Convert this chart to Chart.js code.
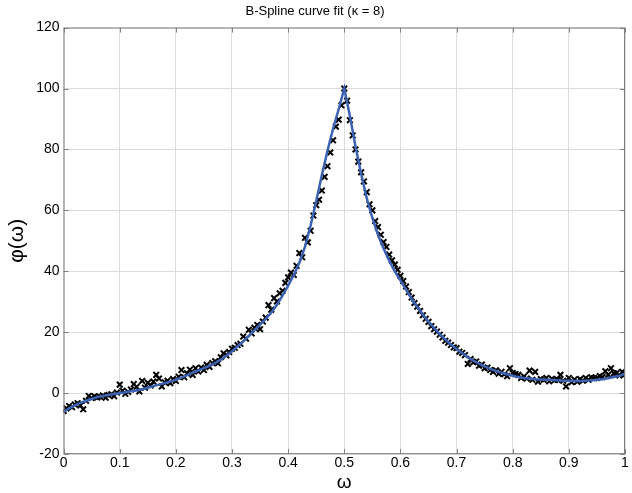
<!DOCTYPE html>
<html>
<head>
<meta charset="utf-8">
<script src="https://cdn.jsdelivr.net/npm/chart.js@4/dist/chart.umd.min.js"></script>
<style>
  html, body { margin: 0; padding: 0; background: #fff; }
  #wrap { width: 632px; height: 493px; }
</style>
</head>
<body>
<div id="wrap"><canvas id="fitChart" width="632" height="493"></canvas></div>
<script>
// measured samples (x markers)
const sampleX = [
    0.000, 0.005, 0.010, 0.015, 0.020, 0.025, 0.030, 0.035, 0.040, 0.045,
    0.050, 0.055, 0.060, 0.065, 0.070, 0.075, 0.080, 0.085, 0.090, 0.095,
    0.100, 0.105, 0.110, 0.115, 0.120, 0.125, 0.130, 0.135, 0.140, 0.145,
    0.150, 0.155, 0.160, 0.165, 0.170, 0.175, 0.180, 0.185, 0.190, 0.195,
    0.200, 0.205, 0.210, 0.215, 0.220, 0.225, 0.230, 0.235, 0.240, 0.245,
    0.250, 0.255, 0.260, 0.265, 0.270, 0.275, 0.280, 0.285, 0.290, 0.295,
    0.300, 0.305, 0.310, 0.315, 0.320, 0.325, 0.330, 0.335, 0.340, 0.345,
    0.350, 0.355, 0.360, 0.365, 0.370, 0.375, 0.380, 0.385, 0.390, 0.395,
    0.400, 0.405, 0.410, 0.415, 0.420, 0.425, 0.430, 0.435, 0.440, 0.445,
    0.450, 0.455, 0.460, 0.465, 0.470, 0.475, 0.480, 0.485, 0.490, 0.495,
    0.500, 0.505, 0.510, 0.515, 0.520, 0.525, 0.530, 0.535, 0.540, 0.545,
    0.550, 0.555, 0.560, 0.565, 0.570, 0.575, 0.580, 0.585, 0.590, 0.595,
    0.600, 0.605, 0.610, 0.615, 0.620, 0.625, 0.630, 0.635, 0.640, 0.645,
    0.650, 0.655, 0.660, 0.665, 0.670, 0.675, 0.680, 0.685, 0.690, 0.695,
    0.700, 0.705, 0.710, 0.715, 0.720, 0.725, 0.730, 0.735, 0.740, 0.745,
    0.750, 0.755, 0.760, 0.765, 0.770, 0.775, 0.780, 0.785, 0.790, 0.795,
    0.800, 0.805, 0.810, 0.815, 0.820, 0.825, 0.830, 0.835, 0.840, 0.845,
    0.850, 0.855, 0.860, 0.865, 0.870, 0.875, 0.880, 0.885, 0.890, 0.895,
    0.900, 0.905, 0.910, 0.915, 0.920, 0.925, 0.930, 0.935, 0.940, 0.945,
    0.950, 0.955, 0.960, 0.965, 0.970, 0.975, 0.980, 0.985, 0.990, 0.995,
    1.000
];
const sampleY = [
    -5.8, -5.0, -4.2, -4.6, -3.7, -3.3, -4.0, -5.3, -2.5, -0.9,
    -1.6, -1.0, -1.4, -1.2, -0.8, -1.5, -0.6, -0.4, -1.0, 0.2,
    2.8, 0.8, -0.2, 0.4, 1.2, 3.0, 2.1, 0.6, 4.0, 1.8,
    3.4, 2.5, 3.8, 6.0, 4.8, 2.2, 3.6, 4.1, 3.3, 4.6,
    4.0, 5.4, 7.6, 5.2, 6.5, 7.7, 6.0, 8.2, 7.1, 8.4,
    7.6, 9.3, 8.6, 9.9, 10.5, 9.8, 11.8, 13.1, 12.4, 13.5,
    14.6, 14.9, 15.8, 16.2, 18.6, 17.9, 20.8, 19.6, 21.5, 22.4,
    21.0, 23.5, 24.8, 28.9, 27.4, 31.2, 30.1, 32.8, 33.6, 36.2,
    38.0, 39.6, 38.8, 41.8, 46.0, 44.6, 51.0, 49.5, 53.3, 58.3,
    61.7, 63.5, 66.5, 71.0, 74.5, 79.0, 83.0, 87.5, 89.8, 94.5,
    100.0, 96.0, 89.6, 84.6, 80.0, 76.0, 72.5, 69.5, 66.0, 62.0,
    60.0, 56.5, 54.5, 52.0, 49.6, 48.0, 45.5, 43.6, 42.2, 40.5,
    38.5, 36.8, 35.0, 33.2, 31.4, 29.6, 28.4, 27.0, 25.6, 24.4,
    23.4, 22.0, 21.0, 20.2, 19.2, 18.3, 17.2, 16.6, 15.8, 15.0,
    14.8, 13.6, 13.2, 12.5, 9.6, 11.2, 10.2, 10.4, 9.0, 9.4,
    8.2, 8.4, 7.6, 7.0, 7.5, 6.4, 7.0, 6.2, 5.6, 8.2,
    6.6, 6.3, 6.0, 5.0, 5.5, 4.8, 7.4, 4.4, 7.0, 3.8,
    4.6, 4.4, 5.0, 3.9, 4.7, 4.3, 4.4, 6.0, 4.1, 2.2,
    5.0, 3.6, 4.5, 3.8, 4.6, 4.1, 5.0, 4.4, 5.2, 4.9,
    5.0, 5.6, 5.3, 7.2, 6.0, 8.2, 6.5, 6.6, 5.8, 7.0,
    6.2
];

// B-spline fit
const fitX = [
    0.00, 0.01, 0.02, 0.03, 0.04, 0.05, 0.06, 0.07, 0.08, 0.09,
    0.10, 0.11, 0.12, 0.13, 0.14, 0.15, 0.16, 0.17, 0.18, 0.19,
    0.20, 0.21, 0.22, 0.23, 0.24, 0.25, 0.26, 0.27, 0.28, 0.29,
    0.30, 0.31, 0.32, 0.33, 0.34, 0.35, 0.36, 0.37, 0.38, 0.39,
    0.40, 0.41, 0.42, 0.43, 0.44, 0.45, 0.46, 0.47, 0.48, 0.49,
    0.50, 0.51, 0.52, 0.53, 0.54, 0.55, 0.56, 0.57, 0.58, 0.59,
    0.60, 0.61, 0.62, 0.63, 0.64, 0.65, 0.66, 0.67, 0.68, 0.69,
    0.70, 0.71, 0.72, 0.73, 0.74, 0.75, 0.76, 0.77, 0.78, 0.79,
    0.80, 0.81, 0.82, 0.83, 0.84, 0.85, 0.86, 0.87, 0.88, 0.89,
    0.90, 0.91, 0.92, 0.93, 0.94, 0.95, 0.96, 0.97, 0.98, 0.99,
    1.00
];
const fitY = [
    -6.2, -5.0, -4.0, -3.2, -2.5, -1.9, -1.3, -0.9, -0.6, -0.3,
    0.0, 0.3, 0.6, 0.9, 1.3, 1.8, 2.3, 2.8, 3.3, 3.8,
    4.4, 5.1, 5.9, 6.7, 7.5, 8.2, 9.0, 9.9, 11.0, 12.3,
    13.7, 15.4, 17.0, 18.8, 20.7, 22.5, 24.4, 26.4, 29.0, 32.0,
    35.3, 38.8, 42.8, 48.0, 55.0, 63.0, 71.5, 79.5, 86.8, 93.2,
    100.0, 91.0, 81.0, 72.0, 64.0, 57.5, 52.0, 47.5, 43.5, 40.0,
    37.0, 34.0, 31.0, 28.3, 25.8, 23.5, 21.4, 19.4, 17.6, 16.0,
    14.5, 13.1, 11.8, 10.7, 9.7, 8.8, 8.0, 7.3, 6.7, 6.2,
    5.7, 5.3, 5.0, 4.8, 4.6, 4.5, 4.4, 4.3, 4.2, 4.1,
    4.1, 4.0, 4.0, 4.1, 4.2, 4.4, 4.6, 4.9, 5.3, 5.7,
    6.4
];

const xTicks = [0, 0.1, 0.2, 0.3, 0.4, 0.5, 0.6, 0.7, 0.8, 0.9, 1];
const yTicks = [-20, 0, 20, 40, 60, 80, 100, 120];

const fontName = '"Liberation Sans", Arial, sans-serif';

// box round the plot area plus small inward tick marks
const boxPlugin = {
    id: 'box',
    afterDraw(chart) {
        const { ctx, chartArea: a, scales } = chart;
        ctx.save();
        ctx.strokeStyle = '#808080';
        ctx.lineWidth = 1;
        ctx.strokeRect(a.left + 0.5, a.top + 0.5, a.right - a.left - 1, a.bottom - a.top - 1);
        ctx.beginPath();
        xTicks.forEach(t => {
            const px = Math.round(scales.x.getPixelForValue(t)) + 0.5;
            ctx.moveTo(px, a.bottom); ctx.lineTo(px, a.bottom - 5);
            ctx.moveTo(px, a.top); ctx.lineTo(px, a.top + 5);
        });
        yTicks.forEach(t => {
            const py = Math.round(scales.y.getPixelForValue(t)) + 0.5;
            ctx.moveTo(a.left, py); ctx.lineTo(a.left + 5, py);
            ctx.moveTo(a.right, py); ctx.lineTo(a.right - 5, py);
        });
        ctx.stroke();
        ctx.restore();
    }
};

const ctx = document.getElementById('fitChart').getContext('2d');
new Chart(ctx, {
    type: 'scatter',
    data: {
        datasets: [{
            label: 'fit',
            type: 'line',
            data: fitX.map((x, i) => ({ x: x, y: fitY[i] })),
            borderColor: '#3c62b4',
            borderWidth: 2.5,
            pointRadius: 0,
            tension: 0,
            fill: false
        }, {
            label: 'data',
            data: sampleX.map((x, i) => ({ x: x, y: sampleY[i] })),
            pointStyle: 'crossRot',
            pointRadius: 4,
            borderColor: '#000',
            borderWidth: 2,
            backgroundColor: '#000'
        }]
    },
    options: {
        responsive: false,
        animation: false,
        layout: { padding: { top: 4, right: 7, left: 5, bottom: 0 } },
        plugins: {
            legend: { display: false },
            tooltip: { enabled: false },
            title: {
                display: true,
                text: 'B-Spline curve fit (κ = 8)',
                color: '#000',
                font: { family: fontName, size: 13, weight: 'normal' },
                padding: { top: 0, bottom: 8 }
            }
        },
        scales: {
            x: {
                type: 'linear',
                min: 0,
                max: 1,
                afterBuildTicks: axis => { axis.ticks = xTicks.map(v => ({ value: v })); },
                ticks: {
                    color: '#000',
                    font: { family: fontName, size: 14, lineHeight: 1 },
                    padding: 2,
                    maxRotation: 0,
                    callback: v => String(v)
                },
                grid: { color: '#dcdcdc', drawTicks: false },
                border: { display: false },
                title: {
                    display: true,
                    text: 'ω',
                    color: '#000',
                    font: { family: fontName, size: 19, lineHeight: 1.1 },
                    padding: { top: 0, bottom: 0 }
                }
            },
            y: {
                min: -20,
                max: 120,
                afterBuildTicks: axis => { axis.ticks = yTicks.map(v => ({ value: v })); },
                ticks: {
                    color: '#000',
                    font: { family: fontName, size: 14 },
                    padding: 4
                },
                grid: { color: '#dcdcdc', drawTicks: false },
                border: { display: false },
                title: {
                    display: true,
                    text: 'φ(ω)',
                    color: '#000',
                    font: { family: fontName, size: 21 },
                    padding: { top: 0, bottom: 2 }
                }
            }
        }
    },
    plugins: [boxPlugin]
});
</script>
</body>
</html>
